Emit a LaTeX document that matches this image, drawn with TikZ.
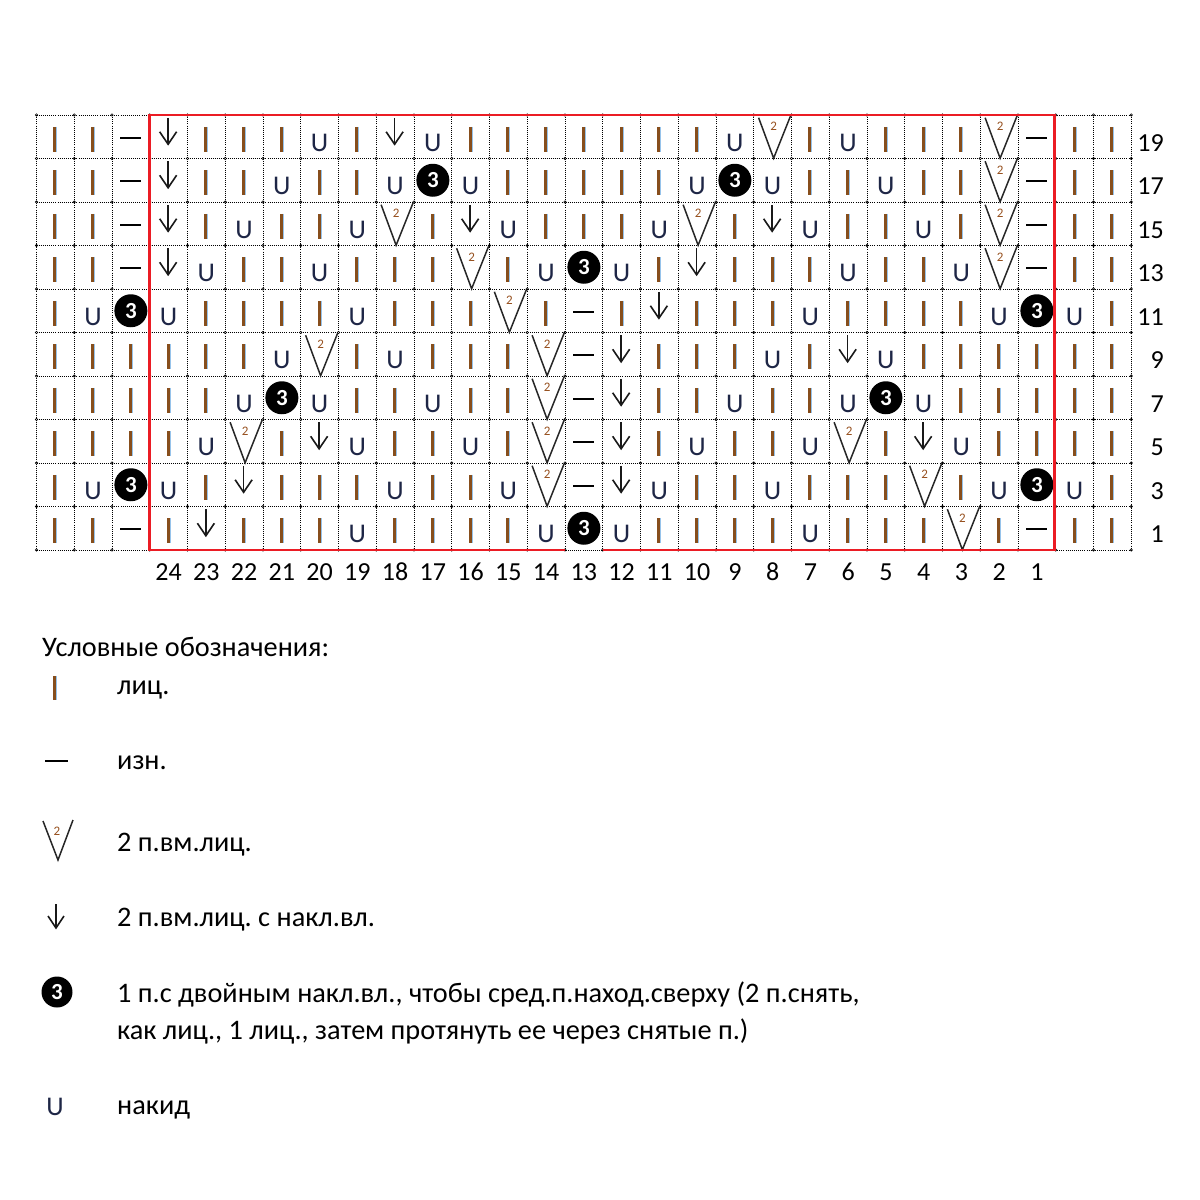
\documentclass[tikz,border=0pt]{standalone}
\usepackage{fontspec}
\setmainfont{Carlito}
\frenchspacing
\definecolor{barbrown}{RGB}{135,78,28}
\definecolor{barblue}{RGB}{150,195,235}
\definecolor{yocol}{RGB}{30,38,70}
\definecolor{chartred}{RGB}{235,28,36}
\definecolor{twocol}{RGB}{150,80,30}
\tikzset{
  gridline/.style={black, line width=1pt, dash pattern=on 1pt off 1.1pt},
  gridknot/.style={black, line width=0.5pt},
  redframe/.style={chartred, line width=2.8pt},
  barstroke/.style={barbrown, line width=3pt},
  barglow/.style={barblue, line width=0.9pt},
  purlstroke/.style={black, line width=1.9pt},
  arrowstroke/.style={black!90, line width=1.6pt, line join=miter},
  vstroke/.style={black!85, line width=1.5pt, line join=miter},
  twolabel/.style={text=twocol, inner sep=0pt, font=\fontsize{13}{15}\selectfont},
  yotext/.style={text=yocol, inner sep=0pt, anchor=base, font=\fontsize{27}{30}\selectfont},
  dotcircle/.style={circle, fill=black, minimum size=33pt, inner sep=0pt, text=white, font=\bfseries\fontsize{23}{26}\selectfont},
  numlabel/.style={inner sep=0pt, font=\fontsize{26}{30}\selectfont},
  legtext/.style={inner sep=0pt, anchor=base west, font=\fontsize{28.3}{32}\selectfont}
}
% symbol drawing macros: #1 = cell centre x, #2 = cell centre y
\newcommand\kchartk[2]{%
  \draw[barstroke] (#1-0.5,#2-10) -- (#1-0.5,#2+15);
  \draw[barglow] (#1+1.45,#2-10) -- (#1+1.45,#2+15);}
\newcommand\kchartp[2]{%
  \draw[purlstroke] (#1-10.5,#2+1) -- (#1+10.5,#2+1);}
\newcommand\kcharty[2]{%
  \node[yotext] at (#1,#2+14.3) {U};}
\newcommand\kcharta[2]{%
  \draw[arrowstroke] (#1-0.5,#2-19) -- (#1-0.5,#2+7.5);
  \draw[arrowstroke] (#1-9,#2-5) -- (#1-0.5,#2+7.5) -- (#1+8,#2-5);}
\newcommand\kchartv[2]{%
  \draw[vstroke] (#1-14,#2-19) -- (#1+1,#2+21.5) -- (#1+18,#2-21);
  \node[twolabel] at (#1+1,#2-10) {2};}
\newcommand\kchartc[2]{%
  \node[dotcircle] at (#1,#2) {3};}
\begin{document}
\begin{tikzpicture}[x=1pt,y=-1pt]
\useasboundingbox (0,0) rectangle (1200,1200);
\fill[white] (0,0) rectangle (1200,1200);
% grid
\foreach \c in {0,...,29} {
  \draw[gridline] (36.5+37.75*\c,115) -- (36.5+37.75*\c,550);
}
\foreach \r in {0,...,10} {
  \draw[gridline] (36.5,115+43.5*\r) -- (1131.25,115+43.5*\r);
}
\foreach \c in {0,...,29} {
  \foreach \r in {0,...,10} {
    \draw[gridknot] (36.5+37.75*\c,115+43.5*\r) circle (1.3);
  }
}
% symbols, rows 19 (top) to 1 (bottom), 29 stitches each
\foreach \row [count=\i from 0] in {{k,k,p,a,k,k,k,y,k,a,y,k,k,k,k,k,k,k,y,v,k,y,k,k,k,v,p,k,k},
  {k,k,p,a,k,k,y,k,k,y,c,y,k,k,k,k,k,y,c,y,k,k,y,k,k,v,p,k,k},
  {k,k,p,a,k,y,k,k,y,v,k,a,y,k,k,k,y,v,k,a,y,k,k,y,k,v,p,k,k},
  {k,k,p,a,y,k,k,y,k,k,k,v,k,y,c,y,k,a,k,k,k,y,k,k,y,v,p,k,k},
  {k,y,c,y,k,k,k,k,y,k,k,k,v,k,p,k,a,k,k,k,y,k,k,k,k,y,c,y,k},
  {k,k,k,k,k,k,y,v,k,y,k,k,k,v,p,a,k,k,k,y,k,a,y,k,k,k,k,k,k},
  {k,k,k,k,k,y,c,y,k,k,y,k,k,v,p,a,k,k,y,k,k,y,c,y,k,k,k,k,k},
  {k,k,k,k,y,v,k,a,y,k,k,y,k,v,p,a,k,y,k,k,y,v,k,a,y,k,k,k,k},
  {k,y,c,y,k,a,k,k,k,y,k,k,y,v,p,a,y,k,k,y,k,k,k,v,k,y,c,y,k},
  {k,k,p,k,a,k,k,k,y,k,k,k,k,y,c,y,k,k,k,k,y,k,k,k,v,k,p,k,k}} {
  \foreach \s [count=\c from 0] in \row {
    \pgfmathsetmacro\cx{36.5+37.75*(\c+0.5)}
    \pgfmathsetmacro\cy{115+43.5*\i+21.75}
    \csname kchart\s\endcsname{\cx}{\cy}
  }
}
% red frame (open under stitch 13 of row 1)
\draw[redframe] (565,550) -- (149.75,550) -- (149.75,115) -- (1054.75,115) -- (1054.75,550) -- (602.75,550);
% row numbers
\foreach \n [count=\i from 0] in {19,17,15,13,11,9,7,5,3,1} {
  \node[numlabel, anchor=base east] (row\n) at (1164,115+43.5*\i+36) {\n};
}
% stitch numbers
\foreach \n [count=\c from 3] in {24,23,22,21,20,19,18,17,16,15,14,13,12,11,10,9,8,7,6,5,4,3,2,1} {
  \node[numlabel, anchor=base] (col\n) at (36.5+37.75*\c+18.875,580) {\n};
}
% legend
\node[legtext] (legtitle) at (42,656) {Условные обозначения:};
\draw[barstroke] (54.5,676) -- (54.5,700);
\draw[barglow] (56.45,676) -- (56.45,700);
\node[legtext] (legk) at (117,694) {лиц.};
\draw[purlstroke] (45,761) -- (68,761);
\node[legtext] (legp) at (117,769) {изн.};
\draw[vstroke] (43,821) -- (58,860) -- (73,820);
\node[twolabel] (legtwo) at (57,831) {2};
\node[legtext] (legv) at (117,851) {2 п.вм.лиц.};
\draw[arrowstroke] (56,904) -- (56,928);
\draw[arrowstroke] (48,916) -- (56,928) -- (64,916);
\node[legtext] (lega) at (117,926) {2 п.вм.лиц. с накл.вл.};
\node[dotcircle, minimum size=31pt] (legc) at (57,992) {3};
\node[legtext] (legc1) at (117,1002) {1 п.с двойным накл.вл., чтобы сред.п.наход.сверху (2 п.снять,};
\node[legtext] (legc2) at (117,1039) {как лиц., 1 лиц., затем протянуть ее через снятые п.)};
\node[yotext] (legu) at (55,1115) {U};
\node[legtext] (legy) at (117,1114) {накид};
\end{tikzpicture}
\end{document}
